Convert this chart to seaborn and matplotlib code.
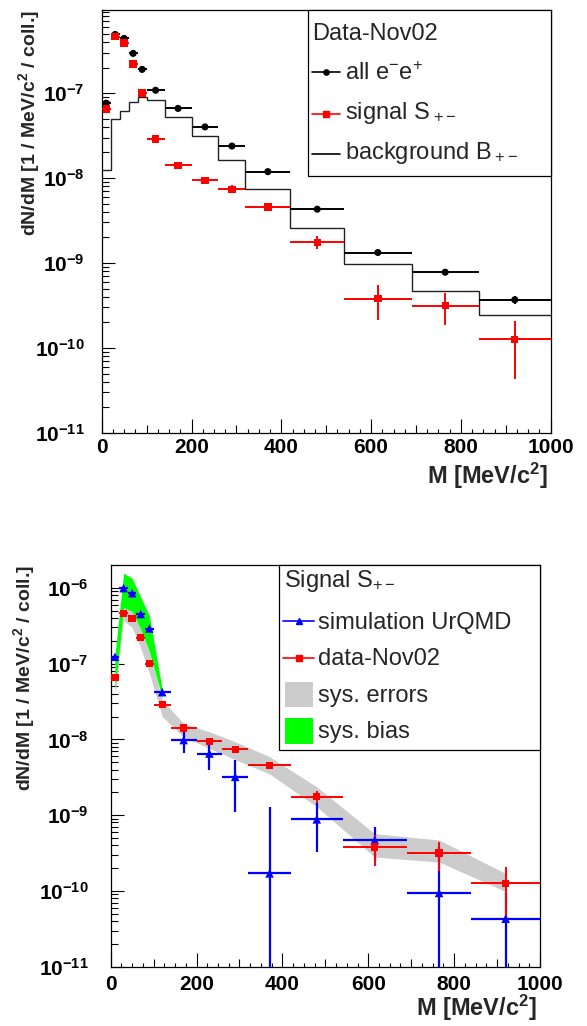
import numpy as np
import pandas as pd
import matplotlib
matplotlib.use("Agg")
import matplotlib.pyplot as plt
import seaborn as sns
from matplotlib.lines import Line2D
from matplotlib.patches import Rectangle
from matplotlib.ticker import FixedLocator, FuncFormatter, NullFormatter

# ---------------- data ----------------
bin_edges = [0, 20, 40, 60, 80, 100, 140, 200, 260, 320, 420, 540, 690, 840, 1000]
mass = [10, 30, 50, 70, 90, 120, 170, 230, 290, 370, 480, 615, 765, 920]

all_ee = [7.6e-8, 4.9e-7, 4.4e-7, 2.93e-7, 1.9e-7, 1.08e-7, 6.6e-8, 4.0e-8,
          2.38e-8, 1.19e-8, 4.3e-9, 1.33e-9, 7.8e-10, 3.7e-10]
all_ee_err = [2e-9, 6e-9, 6e-9, 5e-9, 4e-9, 2e-9, 1.5e-9, 1e-9,
              7e-10, 4e-10, 2e-10, 8e-11, 5e-11, 4e-11]
background = [1.24e-8, 4.9e-8, 6.2e-8, 7.9e-8, 9.1e-8, 8.3e-8, 5.3e-8, 3.1e-8,
              1.63e-8, 7.4e-9, 2.6e-9, 9.7e-10, 4.7e-10, 2.45e-10]
signal = [6.5e-8, 4.6e-7, 3.9e-7, 2.2e-7, 1.0e-7, 2.87e-8, 1.41e-8, 9.4e-9,
          7.4e-9, 4.56e-9, 1.76e-9, 3.8e-10, 3.15e-10, 1.26e-10]
signal_err = [2e-9, 6e-9, 6e-9, 5e-9, 4e-9, 1.5e-9, 1e-9, 1e-9,
              8e-10, 5e-10, 3e-10, 1.65e-10, 1.3e-10, 8.3e-11]
urqmd = [1.23e-7, 9.9e-7, 8.5e-7, 4.5e-7, 2.9e-7, 4.2e-8, 9.8e-9, 6.5e-9,
         3.2e-9, 1.7e-10, 8.8e-10, 4.7e-10, 9.4e-11, 4.3e-11]
urqmd_err = [0, 0, 0, 0, 0, 1e-9, 3.2e-9, 2.6e-9,
             2.1e-9, 1.12e-9, 5.5e-10, 2.3e-10, 2.9e-10, 5e-11]
sys_lo = [4e-8, 3.7e-7, 3.0e-7, 1.6e-7, 7.5e-8, 2.0e-8, 1.07e-8, 7.6e-9,
          5.4e-9, 3.5e-9, 1.29e-9, 2.8e-10, 2.4e-10, 9.8e-11]
sys_hi = [1.1e-7, 5.6e-7, 5.0e-7, 2.9e-7, 1.45e-7, 3.3e-8, 1.62e-8, 1.26e-8,
          9.3e-9, 5.9e-9, 2.36e-9, 5.7e-10, 4.7e-10, 1.7e-10]
bias_mass = [10, 30, 50, 70, 90, 120]
bias_lo = [4.5e-8, 5.5e-7, 4.9e-7, 2.85e-7, 1.45e-7, 3.5e-8]
bias_hi = [1.3e-7, 1.56e-6, 1.34e-6, 7.5e-7, 4.3e-7, 4.6e-8]

x_ticks = [0, 200, 400, 600, 800, 1000]
top_decades = [-11, -10, -9, -8, -7]
bottom_decades = [-11, -10, -9, -8, -7, -6]

df = pd.DataFrame({"M": mass, "all": all_ee, "sig": signal, "sim": urqmd})
edges = np.array(bin_edges, dtype=float)
xm = np.array(mass, dtype=float)
xerr = [xm - edges[:-1], edges[1:] - xm]

# ---------------- style ----------------
sns.set_style("ticks")
plt.rcParams["font.family"] = ["Liberation Sans", "DejaVu Sans"]
plt.rcParams["mathtext.fontset"] = "custom"
plt.rcParams["mathtext.rm"] = "Liberation Sans"
plt.rcParams["mathtext.it"] = "Liberation Sans:italic"
plt.rcParams["mathtext.bf"] = "Liberation Sans:bold"

W, H = 587, 1026
fig = plt.figure(figsize=(W / 100, H / 100), dpi=100)


def fbox(l, t, r, b):
    return [l / W, 1 - b / H, (r - l) / W, (b - t) / H]


ax1 = fig.add_axes(fbox(101.7, 10, 550.7, 433))
ax2 = fig.add_axes(fbox(110.7, 565, 540, 966.7))

TICK_FS = 15
LEG_FS = 17
RED, BLUE, GREEN, GRAY = "#ff0000", "#0000ff", "#00ff00", "#cccccc"


def style_axes(ax, ymin, ymax, decades, ypad, xpad):
    ax.set_yscale("log")
    ax.set_xlim(0, 1000)
    ax.set_ylim(ymin, ymax)
    ax.xaxis.set_major_locator(FixedLocator(x_ticks))
    ax.xaxis.set_minor_locator(FixedLocator([m for m in range(0, 1001, 25) if m % 200]))
    ax.xaxis.set_major_formatter(FuncFormatter(lambda v, p: "%d" % v))
    majors = [10.0 ** d for d in decades]
    minors = [k * 10.0 ** d for d in range(decades[0], decades[-1] + 1) for k in range(2, 10)
              if ymin <= k * 10.0 ** d <= ymax]
    ax.yaxis.set_major_locator(FixedLocator(majors))
    ax.yaxis.set_minor_locator(FixedLocator(minors))
    ax.yaxis.set_minor_formatter(NullFormatter())
    ax.yaxis.set_major_formatter(
        FuncFormatter(lambda v, p: r"$\mathbf{10^{%d}}$" % int(round(np.log10(v)))))
    ax.tick_params(which="both", direction="in", top=False, right=False,
                   width=0.8, color="black", labelsize=TICK_FS, labelcolor="black")
    ax.tick_params(axis="x", which="major", length=10, pad=xpad)
    ax.tick_params(axis="x", which="minor", length=3.2)
    ax.tick_params(axis="y", which="major", length=9.5, pad=ypad)
    ax.tick_params(axis="y", which="minor", length=5)
    for lab in ax.get_xticklabels():
        lab.set_fontweight("bold")
    for t, loc in zip(ax.xaxis.get_minor_ticks(), ax.xaxis.get_minorticklocs()):
        if int(round(loc)) % 100 == 0:
            t.tick1line.set_markersize(5.8)
    for s in ax.spines.values():
        s.set_linewidth(0.9)
        s.set_color("black")
    ax.set_facecolor("white")


# ---------------- top panel ----------------
ax1.stairs(background, bin_edges, baseline=None, color="#222222", lw=1.0, zorder=2)
ax1.errorbar(mass, all_ee, xerr=xerr, yerr=all_ee_err, fmt="none",
             ecolor="black", elinewidth=1.4, capsize=0, zorder=3)
ax1.errorbar(mass, signal, xerr=xerr, yerr=signal_err, fmt="none",
             ecolor=RED, elinewidth=1.4, capsize=0, zorder=3)
style_axes(ax1, 1e-11, 9.5e-7, top_decades, ypad=12.5, xpad=3.6)
sns.scatterplot(data=df, x="M", y="all", marker="o", s=26, color="black",
                edgecolor="none", ax=ax1, zorder=4, legend=False)
sns.scatterplot(data=df, x="M", y="sig", marker="s", s=28, color=RED,
                edgecolor="none", ax=ax1, zorder=5, legend=False)

# ---------------- bottom panel ----------------
ax2.fill_between(mass, sys_lo, sys_hi, color=GRAY, lw=0, zorder=1)
ax2.fill_between(bias_mass, bias_lo, bias_hi, color=GREEN, lw=0, zorder=2)
ax2.errorbar(mass, urqmd, xerr=xerr, yerr=urqmd_err, fmt="none",
             ecolor=BLUE, elinewidth=1.6, capsize=0, zorder=3)
ax2.errorbar(mass, signal, xerr=xerr, yerr=signal_err, fmt="none",
             ecolor=RED, elinewidth=1.4, capsize=0, zorder=4)
style_axes(ax2, 1e-11, 2e-6, bottom_decades, ypad=16, xpad=5.8)
sns.scatterplot(data=df, x="M", y="sim", marker="^", s=38, color=BLUE,
                edgecolor="none", ax=ax2, zorder=5, legend=False)
sns.scatterplot(data=df, x="M", y="sig", marker="s", s=28, color=RED,
                edgecolor="none", ax=ax2, zorder=6, legend=False)

# axis labels
ylab = r"dN/dM [1 / MeV/c$^{\mathbf{2}}$ / coll.]"
xlab = r"M [MeV/c$^{\mathbf{2}}$]"
for ax, ylx, xly, xlx in [(ax1, -0.133, -0.066, 0.994), (ax2, -0.172, -0.066, 0.992)]:
    ax.set_xlabel(xlab, fontsize=17, fontweight="bold", loc="right")
    ax.set_ylabel(ylab, fontsize=14, fontweight="bold", loc="top")
    ax.yaxis.set_label_coords(ylx, 1.0)
    ax.xaxis.set_label_coords(xlx, xly)


# ---------------- legends (drawn in figure pixel space) ----------------
def P(x, y):
    return (x / W, 1 - y / H)


def leg_box(l, t, r, b):
    fig.add_artist(Rectangle(P(l, b), (r - l) / W, (b - t) / H, transform=fig.transFigure,
                             facecolor="white", edgecolor="black", lw=0.9, zorder=10))


def leg_text(x, y, s):
    fig.text(x / W, 1 - y / H, s, fontsize=LEG_FS, ha="left", va="baseline", zorder=12)


def leg_line(x0, x1, y, color, marker=None, ms=4):
    fig.add_artist(Line2D([x0 / W, x1 / W], [1 - y / H] * 2, transform=fig.transFigure,
                          color=color, lw=1.2, zorder=11))
    if marker:
        fig.add_artist(Line2D([(x0 + x1) / 2 / W], [1 - y / H], transform=fig.transFigure,
                              marker=marker, ms=ms, color=color, ls="none", zorder=12))


def leg_patch(x0, y0, x1, y1, color):
    fig.add_artist(Rectangle(P(x0, y1), (x1 - x0) / W, (y1 - y0) / H, transform=fig.transFigure,
                             facecolor=color, edgecolor="none", zorder=11))


# top legend
leg_box(308, 10, 550.7, 176)
leg_text(312, 40, "Data-Nov02")
leg_line(312, 340, 71.7, "black", "o", 3.8)
leg_text(345, 80, r"all e$^{\mathregular{-}}$e$^{\mathregular{+}}$")
leg_line(312, 340, 114.3, RED, "s", 3.8)
leg_text(345, 119.5, r"signal S$_{\;\mathregular{+-}}$")
leg_line(312, 340, 154.3, "black")
leg_text(345, 159.5, r"background B$_{\;\mathregular{+-}}$")

# bottom legend
leg_box(279, 565, 540, 750)
leg_text(284, 587, r"Signal S$_{\mathregular{+-}}$")
leg_line(283, 314, 621, BLUE, "^", 5)
leg_text(318, 628.5, "simulation UrQMD")
leg_line(283, 314, 657.7, RED, "s", 4.5)
leg_text(318, 665, "data-Nov02")
leg_patch(285, 681.7, 312.7, 707.3, GRAY)
leg_text(318, 701.7, "sys. errors")
leg_patch(285, 718, 312.7, 744, GREEN)
leg_text(318, 738, "sys. bias")

fig.savefig("out.png", dpi=100, facecolor="white")
